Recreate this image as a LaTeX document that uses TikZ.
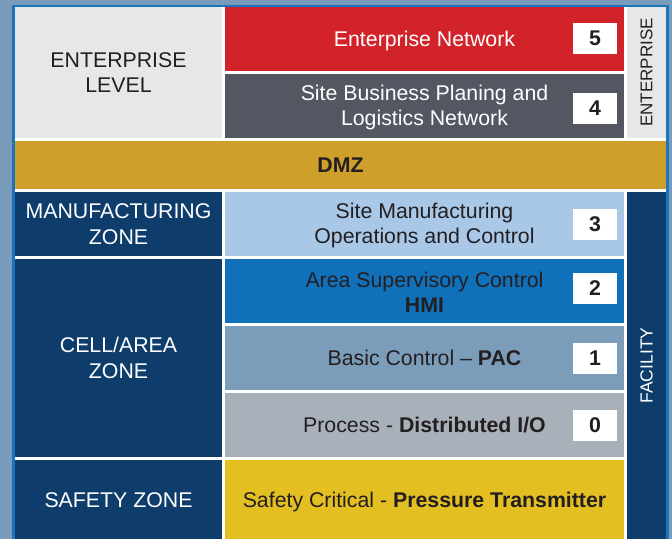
\documentclass[tikz,border=0pt]{standalone}
\usepackage{fontspec}
\setmainfont{Liberation Sans}
\usetikzlibrary{calc}
\definecolor{bgc}{HTML}{7A9CBC}
\definecolor{frameblue}{HTML}{1B75BC}
\definecolor{entgray}{HTML}{E6E7E9}
\definecolor{entred}{HTML}{D2232A}
\definecolor{darkgray}{HTML}{545762}
\definecolor{dmzgold}{HTML}{CE9F2A}
\definecolor{navy}{HTML}{0F3D6B}
\definecolor{lightblue}{HTML}{A9C8E8}
\definecolor{midblue}{HTML}{1071BA}
\definecolor{steel}{HTML}{7B9DBA}
\definecolor{procgray}{HTML}{A8B1BA}
\definecolor{safeyellow}{HTML}{E4BF22}
\definecolor{darktext}{HTML}{231F20}
\begin{document}
\begin{tikzpicture}[x=1pt,y=-1pt,
  cellbox/.style={anchor=north west, inner sep=0pt, outer sep=0pt, align=center,
    font=\fontsize{21.3}{25}\selectfont},
  oneline/.style={anchor=base, inner sep=0pt, font=\fontsize{21.3}{25}\selectfont},
  twoline/.style={align=center, inner sep=0pt, font=\fontsize{21.3}{25}\selectfont},
  numbox/.style={fill=white, minimum width=44pt, minimum height=31pt, inner sep=0pt,
    font=\fontsize{21.3}{25}\selectfont\bfseries, text=darktext},
  vertlabel/.style={rotate=90, inner sep=0pt, font=\fontsize{17}{20}\selectfont}]
\useasboundingbox (0,0) rectangle (672,539);
\fill[bgc] (0,0) rectangle (672,539);
\fill[frameblue] (12,5) rectangle (669,539);
\fill[white] (14.5,7) rectangle (666,539);

% Enterprise
\node[cellbox, fill=entgray, minimum width=207pt, minimum height=131pt] (entlvl) at (15,7) {};
\node[twoline, text=darktext] (entlvltxt) at (entlvl.center) {ENTERPRISE\\LEVEL};
\node[cellbox, fill=entred, minimum width=399pt, minimum height=64pt] (l5) at (225,7) {};
\node[oneline, text=white] (l5txt) at ($(l5.center)+(0,7.6)$) {Enterprise Network};
\node[cellbox, fill=darkgray, minimum width=399pt, minimum height=64pt] (l4) at (225,74) {};
\node[twoline, text=white] (l4txt) at ($(l4.center)+(0,1)$) {Site Business Planing and\\Logistics Network};
\node[cellbox, fill=entgray, minimum width=39pt, minimum height=131pt] (entv) at (627,7) {};
\node[vertlabel, text=darktext] (entvtxt) at (entv.center) {ENTERPRISE};

% DMZ
\node[cellbox, fill=dmzgold, minimum width=651pt, minimum height=48pt] (dmz) at (15,141) {};
\node[oneline, font=\fontsize{21.3}{25}\selectfont\bfseries, text=darktext] (dmztxt) at ($(dmz.center)+(0,7.4)$) {DMZ};

% Manufacturing
\node[cellbox, fill=navy, minimum width=207pt, minimum height=64pt] (mfg) at (15,192) {};
\node[twoline, font=\fontsize{21.3}{26}\selectfont, text=white] (mfgtxt) at (mfg.center) {MANUFACTURING\\ZONE};
\node[cellbox, fill=lightblue, minimum width=399pt, minimum height=64pt] (l3) at (225,192) {};
\node[twoline, text=darktext] (l3txt) at ($(l3.center)+(0,1)$) {Site Manufacturing\\Operations and Control};

% Cell/Area
\node[cellbox, fill=navy, minimum width=207pt, minimum height=198pt] (cell) at (15,259) {};
\node[twoline, font=\fontsize{21.3}{26}\selectfont, text=white] (celltxt) at (cell.center) {CELL/AREA\\ZONE};
\node[cellbox, fill=midblue, minimum width=399pt, minimum height=64pt] (l2) at (225,259) {};
\node[twoline, text=darktext] (l2txt) at ($(l2.center)+(0,1.5)$) {Area Supervisory Control\\\textbf{HMI}};
\node[cellbox, fill=steel, minimum width=399pt, minimum height=64pt] (l1) at (225,326) {};
\node[oneline, text=darktext] (l1txt) at ($(l1.center)+(0,7.6)$) {Basic Control – \textbf{PAC}};
\node[cellbox, fill=procgray, minimum width=399pt, minimum height=64pt] (l0) at (225,393) {};
\node[oneline, text=darktext] (l0txt) at ($(l0.center)+(0,7.6)$) {Process - \textbf{Distributed I/O}};

% Safety
\node[cellbox, fill=navy, minimum width=207pt, minimum height=79pt] (sz) at (15,460) {};
\node[oneline, text=white] (sztxt) at ($(sz.center)+(0,7.6)$) {SAFETY ZONE};
\node[cellbox, fill=safeyellow, minimum width=399pt, minimum height=79pt] (sc) at (225,460) {};
\node[oneline, text=darktext] (sctxt) at ($(sc.center)+(0,7.6)$) {Safety Critical - \textbf{Pressure Transmitter}};

% Facility
\node[cellbox, fill=navy, minimum width=39pt, minimum height=347pt] (fac) at (627,192) {};
\node[vertlabel, text=white, font=\fontsize{17.5}{20}\selectfont] (factxt) at (fac.center) {FACILITY};

% Level numbers
\node[numbox] (n5) at (595,38.5) {5};
\node[numbox] (n4) at (595,108.5) {4};
\node[numbox] (n3) at (595,224.5) {3};
\node[numbox] (n2) at (595,288.5) {2};
\node[numbox] (n1) at (595,358.5) {1};
\node[numbox] (n0) at (595,425.5) {0};
\end{tikzpicture}
\end{document}
